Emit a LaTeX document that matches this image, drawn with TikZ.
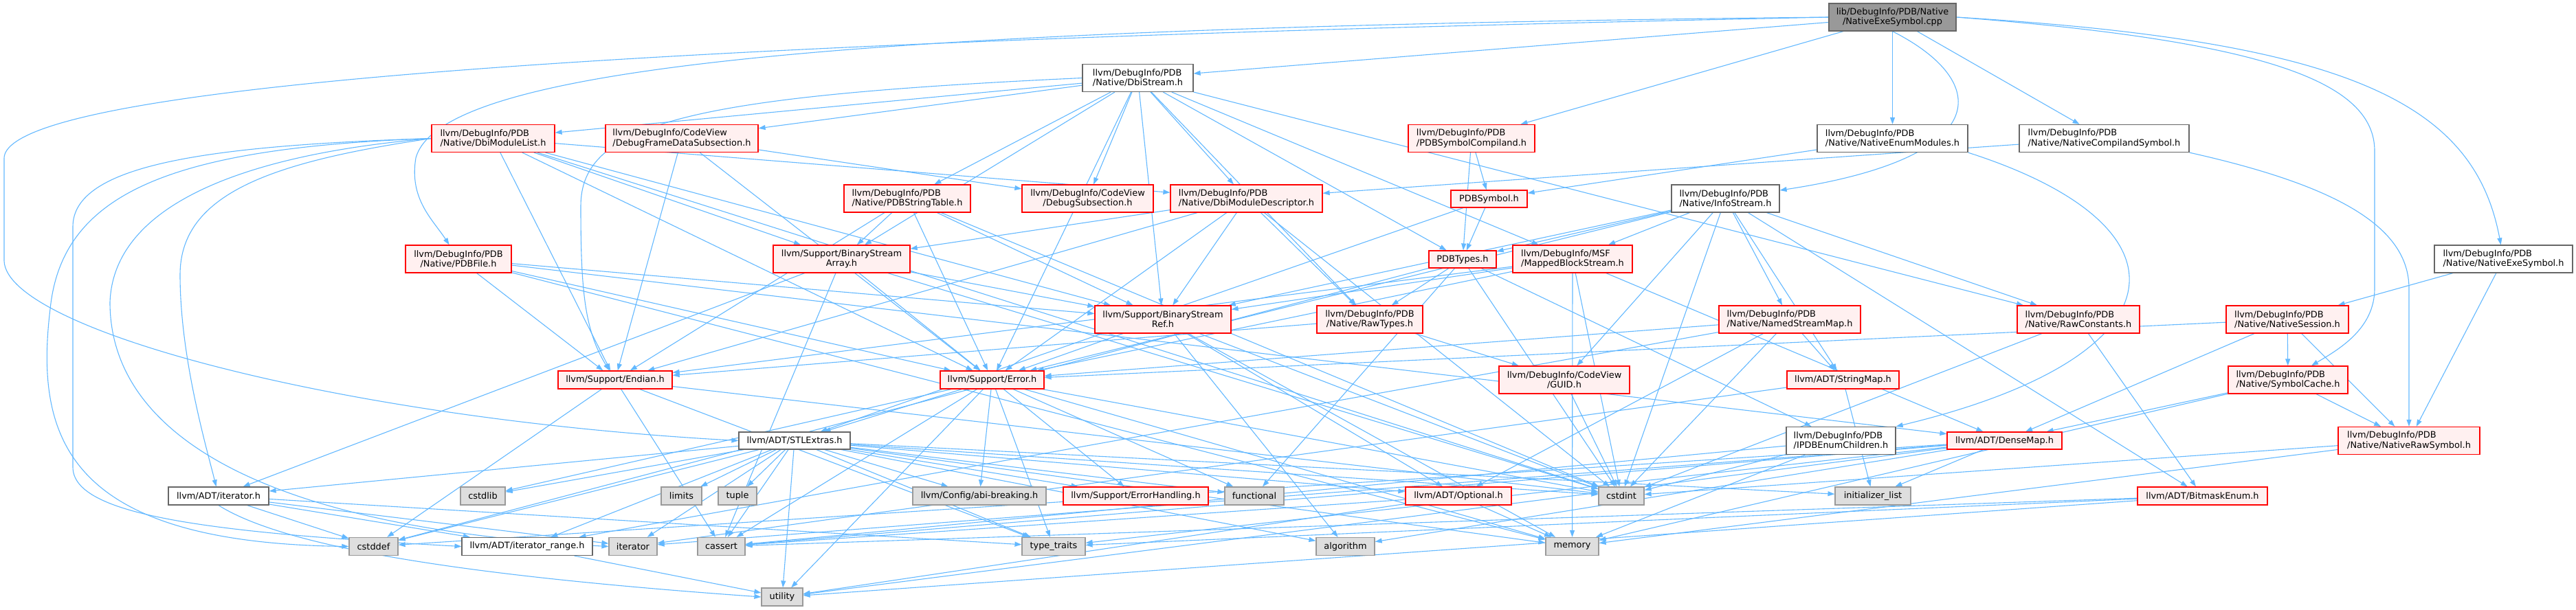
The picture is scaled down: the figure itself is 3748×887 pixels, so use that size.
\documentclass[tikz,border=0pt]{standalone}
\usepackage{fontspec}
\setmainfont{DejaVu Sans}
\usetikzlibrary{arrows.meta}
\pgfdeclarelayer{bg}
\pgfsetlayers{bg,main}
\definecolor{edgec}{HTML}{63B8FF}
\definecolor{redfill}{HTML}{FFF0F0}
\definecolor{redline}{HTML}{FF0000}
\definecolor{greyforty}{HTML}{666666}
\definecolor{greysixty}{HTML}{999999}
\definecolor{greyeightyseven}{HTML}{DEDEDE}
\begin{document}
\begin{tikzpicture}[x=1pt,y=-1pt,
  every node/.style={font=\fontsize{12.9}{14.2}\selectfont, inner sep=2pt, line width=1.2pt},
  rb/.style={draw=redline, fill=redfill},
  wb/.style={draw=greyforty, fill=white},
  gb/.style={draw=greysixty, fill=greyeightyseven},
  cb/.style={draw=greyforty, fill=greysixty},
  sz/.style 2 args={minimum width=#1, minimum height=#2},
  edge/.style={draw=edgec, line width=1.1pt, -{Triangle[length=10pt,width=7pt]}}]
\useasboundingbox (0,0) rectangle (3748,887);
% row 1
\node[cb,sz={185pt}{40pt},align=center] (cpp) at (2753.5,25) {lib/DebugInfo/PDB/Native\\/NativeExeSymbol.cpp};
\node[wb,sz={161pt}{40pt},align=left] (dbis) at (1655.5,113.5) {llvm/DebugInfo/PDB\\/Native/DbiStream.h};
% row 2
\node[rb,sz={179pt}{40pt},align=left] (dml) at (717.5,201.5) {llvm/DebugInfo/PDB\\/Native/DbiModuleList.h};
\node[rb,sz={222pt}{40pt},align=left] (dfds) at (992,201.5) {llvm/DebugInfo/CodeView\\/DebugFrameDataSubsection.h};
\node[rb,sz={184pt}{40pt},align=left] (psc) at (2141,201.5) {llvm/DebugInfo/PDB\\/PDBSymbolCompiland.h};
\node[wb,sz={219pt}{40pt},align=left] (nem) at (2753.5,201.5) {llvm/DebugInfo/PDB\\/Native/NativeEnumModules.h};
\node[wb,sz={247pt}{40pt},align=left] (ncs) at (3061.5,201.5) {llvm/DebugInfo/PDB\\/Native/NativeCompilandSymbol.h};
% row 3
\node[rb,sz={184pt}{40pt},align=left] (pst) at (1320,289) {llvm/DebugInfo/PDB\\/Native/PDBStringTable.h};
\node[rb,sz={191pt}{40pt},align=center] (dss) at (1582.5,289) {llvm/DebugInfo/CodeView\\/DebugSubsection.h};
\node[rb,sz={221pt}{40pt},align=left] (dmd) at (1813.5,289) {llvm/DebugInfo/PDB\\/Native/DbiModuleDescriptor.h};
\node[rb,sz={111pt}{25pt}] (psym) at (2166.5,289.5) {PDBSymbol.h};
\node[wb,sz={157pt}{40pt},align=left] (info) at (2510.5,289) {llvm/DebugInfo/PDB\\/Native/InfoStream.h};
% row 4
\node[rb,sz={154pt}{40pt},align=center] (pdbf) at (667,377) {llvm/DebugInfo/PDB\\/Native/PDBFile.h};
\node[rb,sz={199pt}{40pt},align=center] (bsa) at (1224.5,377) {llvm/Support/BinaryStream\\Array.h};
\node[rb,sz={98pt}{25pt}] (ptypes) at (2128,377.5) {PDBTypes.h};
\node[rb,sz={174pt}{40pt},align=left] (mbs) at (2288,377) {llvm/DebugInfo/MSF\\/MappedBlockStream.h};
\node[wb,sz={201pt}{40pt},align=left] (nexe) at (3642.5,377) {llvm/DebugInfo/PDB\\/Native/NativeExeSymbol.h};
% row 5
\node[rb,sz={198pt}{40pt},align=center] (bsr) at (1692,465) {llvm/Support/BinaryStream\\Ref.h};
\node[rb,sz={154pt}{40pt},align=center] (rawt) at (1993,465) {llvm/DebugInfo/PDB\\/Native/RawTypes.h};
\node[rb,sz={206pt}{40pt},align=left] (nsm) at (2604,465) {llvm/DebugInfo/PDB\\/Native/NamedStreamMap.h};
\node[rb,sz={178pt}{40pt},align=left] (rawc) at (3024,465) {llvm/DebugInfo/PDB\\/Native/RawConstants.h};
\node[rb,sz={178pt}{40pt},align=left] (nsess) at (3328,465) {llvm/DebugInfo/PDB\\/Native/NativeSession.h};
% row 6
\node[rb,sz={166pt}{26pt}] (endian) at (895,553) {llvm/Support/Endian.h};
\node[rb,sz={151pt}{26pt}] (err) at (1443.5,553) {llvm/Support/Error.h};
\node[rb,sz={190pt}{40pt},align=center] (guid) at (2276,553) {llvm/DebugInfo/CodeView\\/GUID.h};
\node[rb,sz={163pt}{26pt}] (smap) at (2681.5,553) {llvm/ADT/StringMap.h};
\node[rb,sz={174pt}{40pt},align=left] (scache) at (3329,553) {llvm/DebugInfo/PDB\\/Native/SymbolCache.h};
% row 7
\node[wb,sz={162pt}{25pt}] (stl) at (1156,641.5) {llvm/ADT/STLExtras.h};
\node[wb,sz={159pt}{40pt},align=left] (ienum) at (2678.5,641.5) {llvm/DebugInfo/PDB\\/IPDBEnumChildren.h};
\node[rb,sz={167pt}{25pt}] (dmap) at (2916.5,641.5) {llvm/ADT/DenseMap.h};
\node[rb,sz={206pt}{40pt},align=left] (nraw) at (3505,641.5) {llvm/DebugInfo/PDB\\/Native/NativeRawSymbol.h};
% row 8
\node[wb,sz={146pt}{26pt}] (iterh) at (318,722) {llvm/ADT/iterator.h};
\node[gb,sz={65pt}{26pt}] (cstdlib) at (702.5,722) {cstdlib};
\node[gb,sz={59pt}{26pt}] (limits) at (991.5,722) {limits};
\node[gb,sz={56pt}{26pt}] (tuple) at (1073,722) {tuple};
\node[gb,sz={194pt}{26pt}] (abi) at (1425,722) {llvm/Config/abi-breaking.h};
\node[rb,sz={211pt}{26pt}] (errh) at (1652.5,722) {llvm/Support/ErrorHandling.h};
\node[gb,sz={86pt}{26pt}] (functional) at (1825,722) {functional};
\node[rb,sz={154pt}{26pt}] (opt) at (2122,722) {llvm/ADT/Optional.h};
\node[gb,sz={66pt}{26pt}] (cstdint) at (2359,722) {cstdint};
\node[gb,sz={110pt}{26pt}] (initl) at (2725,722) {initializer\_list};
\node[rb,sz={189pt}{26pt}] (bitmask) at (3204.5,722) {llvm/ADT/BitmaskEnum.h};
% row 9
\node[gb,sz={71pt}{26pt}] (cstddef) at (543.5,795.5) {cstddef};
\node[wb,sz={190pt}{26pt}] (itrange) at (767,795.5) {llvm/ADT/iterator\_range.h};
\node[gb,sz={70pt}{26pt}] (iterator) at (921,795.5) {iterator};
\node[gb,sz={69pt}{26pt}] (cassert) at (1049.5,795.5) {cassert};
\node[gb,sz={92pt}{26pt}] (typetraits) at (1533,795.5) {type\_traits};
\node[gb,sz={85pt}{26pt}] (algorithm) at (1957.5,795.5) {algorithm};
\node[gb,sz={77pt}{26pt}] (memory) at (2287.5,795.5) {memory};
% row 10
\node[gb,sz={60pt}{26pt}] (utility) at (1138,869) {utility};

\begin{pgfonlayer}{bg}
\foreach \a/\b in {
 cpp/nem, cpp/ncs, cpp/psc, cpp/dbis,
 nexe/nraw, nexe/nsess,
 dbis/dml, dbis/dfds, dbis/pst, dbis/dss, dbis/dmd, dbis/bsa, dbis/bsr, dbis/err, dbis/mbs, dbis/ptypes, dbis/rawc, dbis/rawt,
 dml/cstdint, dml/dmd, dml/bsa, dml/bsr, dml/endian, dml/err,
 dfds/dss, dfds/endian, dfds/err,
 psc/psym, psc/ptypes,
 nem/psym, ncs/dmd,
 pst/bsa, pst/bsr, pst/endian, pst/err, pst/cstdint,
 dmd/bsa, dmd/bsr, dmd/err, dmd/endian, dmd/rawt, dmd/cstdint,
 psym/ptypes, psym/stl,
 info/ptypes, info/err, info/mbs, info/guid, info/cstdint, info/nsm, info/smap, info/rawc, info/bitmask, info/bsr,
 pdbf/bsr, pdbf/endian, pdbf/err, pdbf/dmap, pdbf/memory,
 bsa/bsr, bsa/err, bsa/cassert, bsa/cstdint, bsa/iterh,
 bsr/opt, bsr/err, bsr/algorithm, bsr/cstdint, bsr/memory,
 endian/cassert, endian/cstddef, endian/cstdint, endian/typetraits,
 err/stl, err/abi, err/errh, err/cassert, err/cstdint, err/cstdlib, err/functional, err/memory, err/typetraits, err/utility,
 stl/iterh, stl/itrange, stl/abi, stl/errh, stl/algorithm, stl/cassert, stl/cstddef, stl/cstdint, stl/cstdlib, stl/functional, stl/initl, stl/iterator, stl/limits, stl/memory, stl/tuple, stl/typetraits, stl/utility, stl/opt,
 iterh/itrange, iterh/cstddef, iterh/iterator, iterh/typetraits,
 itrange/utility,
 opt/cassert, opt/memory, opt/utility,
 guid/cstdint, rawt/guid, rawt/endian,
 nsm/smap, nsm/opt, nsm/cstdint, nsm/err, nsm/itrange,
 smap/initl, smap/iterator,
 ienum/cassert, ienum/cstdint, ienum/memory,
 rawc/bitmask, rawc/cstdint,
 nsess/err, nsess/scache, nsess/nraw, nsess/dmap,
 scache/dmap, scache/nraw, scache/memory,
 dmap/algorithm, dmap/cassert, dmap/cstddef, dmap/initl, dmap/iterator, dmap/typetraits, dmap/utility,
 bitmask/cassert, bitmask/typetraits, bitmask/utility,
 nraw/cstdint, nraw/memory,
 mbs/dmap, mbs/bsr, mbs/endian, mbs/err, mbs/cstdint, mbs/memory,
 ptypes/rawt, ptypes/ienum, ptypes/cstddef, ptypes/cstdint, ptypes/functional}
 \draw[edge] (\a) -- (\b);
% routed edges
\draw[edge] (cpp.west) .. controls (1200,55) and (10,110) .. (6,230) -- (6,380) .. controls (10,480) and (500,610) .. (stl.west);
\draw[edge] (cpp.west) .. controls (1200,40) and (640,100) .. (605,230) .. controls (595,290) and (630,320) .. (pdbf);
\draw[edge] (cpp.east) .. controls (3300,60) and (3455,120) .. (3455,220) -- (3455,420) .. controls (3455,480) and (3400,510) .. (scache);
\draw[edge] (cpp.east) .. controls (3420,60) and (3600,150) .. (nexe);
\draw[edge] (cpp.south) .. controls (2900,120) and (2900,230) .. (info);
\draw[edge] (nem.south east) .. controls (3200,330) and (3180,520) .. (ienum.north east);
\draw[edge] (ncs.south east) .. controls (3400,270) and (3505,330) .. (3505,420) -- (nraw);
\draw[edge] (dml.west) .. controls (300,212) and (106,240) .. (106,330) -- (106,680) .. controls (106,750) and (300,775) .. (itrange.west);
\draw[edge] (dml.west) .. controls (250,215) and (90,280) .. (73,450) .. controls (50,640) and (100,790) .. (cstddef.west);
\draw[edge] (dml.west) .. controls (400,235) and (262,280) .. (262,400) .. controls (262,520) and (300,650) .. (iterh);
\draw[edge] (dml.west) .. controls (350,225) and (165,300) .. (160,440) .. controls (160,640) and (400,770) .. (iterator.west);
\draw[edge] (dbis.west) .. controls (1000,140) and (845,180) .. (845,300) .. controls (845,420) and (850,480) .. (endian);
\draw[edge] (iterh.south) .. controls (420,800) and (700,840) .. (utility.west);
\end{pgfonlayer}
\end{tikzpicture}
\end{document}
